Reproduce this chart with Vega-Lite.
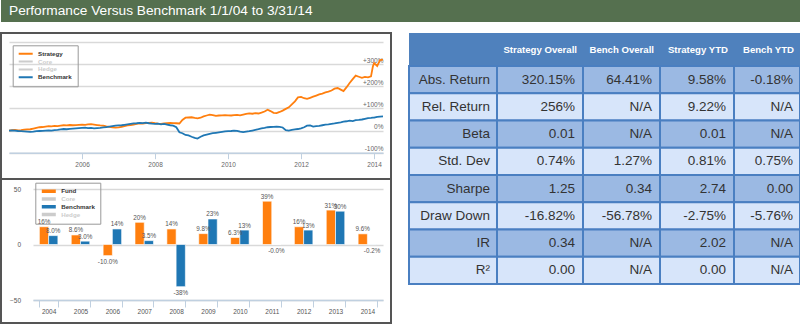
{
  "$schema": "https://vega.github.io/schema/vega-lite/v6.json",
  "padding": 0,
  "background": "#ffffff",
  "config": {"font": "Liberation Sans", "view": {"stroke": null}},
  "datasets": {
    "perf": [
      {"date":"2004-01-01","Strategy":0,"Benchmark":0},
      {"date":"2004-02-01","Strategy":2,"Benchmark":1},
      {"date":"2004-03-01","Strategy":3,"Benchmark":0},
      {"date":"2004-04-01","Strategy":1,"Benchmark":-2},
      {"date":"2004-05-01","Strategy":2,"Benchmark":-3},
      {"date":"2004-06-01","Strategy":4,"Benchmark":-4},
      {"date":"2004-07-01","Strategy":5,"Benchmark":-5},
      {"date":"2004-08-01","Strategy":6,"Benchmark":-6},
      {"date":"2004-09-01","Strategy":9,"Benchmark":-5},
      {"date":"2004-10-01","Strategy":12,"Benchmark":-3},
      {"date":"2004-11-01","Strategy":15,"Benchmark":-2},
      {"date":"2004-12-01","Strategy":16,"Benchmark":-1},
      {"date":"2005-01-01","Strategy":18,"Benchmark":0},
      {"date":"2005-02-01","Strategy":20,"Benchmark":1},
      {"date":"2005-03-01","Strategy":19,"Benchmark":0},
      {"date":"2005-04-01","Strategy":21,"Benchmark":2},
      {"date":"2005-05-01","Strategy":20,"Benchmark":3},
      {"date":"2005-06-01","Strategy":22,"Benchmark":5},
      {"date":"2005-07-01","Strategy":24,"Benchmark":7},
      {"date":"2005-08-01","Strategy":23,"Benchmark":6},
      {"date":"2005-09-01","Strategy":25,"Benchmark":8},
      {"date":"2005-10-01","Strategy":24,"Benchmark":9},
      {"date":"2005-11-01","Strategy":25,"Benchmark":10},
      {"date":"2005-12-01","Strategy":26,"Benchmark":11},
      {"date":"2006-01-01","Strategy":27,"Benchmark":12},
      {"date":"2006-02-01","Strategy":26,"Benchmark":13},
      {"date":"2006-03-01","Strategy":28,"Benchmark":11},
      {"date":"2006-04-01","Strategy":29,"Benchmark":12},
      {"date":"2006-05-01","Strategy":27,"Benchmark":10},
      {"date":"2006-06-01","Strategy":25,"Benchmark":11},
      {"date":"2006-07-01","Strategy":23,"Benchmark":12},
      {"date":"2006-08-01","Strategy":22,"Benchmark":14},
      {"date":"2006-09-01","Strategy":19,"Benchmark":16},
      {"date":"2006-10-01","Strategy":17,"Benchmark":18},
      {"date":"2006-11-01","Strategy":15,"Benchmark":20},
      {"date":"2006-12-01","Strategy":13,"Benchmark":22},
      {"date":"2007-01-01","Strategy":14,"Benchmark":23},
      {"date":"2007-02-01","Strategy":17,"Benchmark":24},
      {"date":"2007-03-01","Strategy":20,"Benchmark":26},
      {"date":"2007-04-01","Strategy":23,"Benchmark":28},
      {"date":"2007-05-01","Strategy":25,"Benchmark":30},
      {"date":"2007-06-01","Strategy":27,"Benchmark":32},
      {"date":"2007-07-01","Strategy":30,"Benchmark":33},
      {"date":"2007-08-01","Strategy":32,"Benchmark":35},
      {"date":"2007-09-01","Strategy":31,"Benchmark":34},
      {"date":"2007-10-01","Strategy":34,"Benchmark":36},
      {"date":"2007-11-01","Strategy":35,"Benchmark":33},
      {"date":"2007-12-01","Strategy":36,"Benchmark":31},
      {"date":"2008-01-01","Strategy":33,"Benchmark":30},
      {"date":"2008-02-01","Strategy":31,"Benchmark":31},
      {"date":"2008-03-01","Strategy":30,"Benchmark":28},
      {"date":"2008-04-01","Strategy":32,"Benchmark":30},
      {"date":"2008-05-01","Strategy":34,"Benchmark":27},
      {"date":"2008-06-01","Strategy":35,"Benchmark":24},
      {"date":"2008-07-01","Strategy":34,"Benchmark":22},
      {"date":"2008-08-01","Strategy":33,"Benchmark":15},
      {"date":"2008-09-01","Strategy":32,"Benchmark":-8},
      {"date":"2008-10-01","Strategy":48,"Benchmark":-12},
      {"date":"2008-11-01","Strategy":58,"Benchmark":-20},
      {"date":"2008-12-01","Strategy":59,"Benchmark":-22},
      {"date":"2009-01-01","Strategy":60,"Benchmark":-28},
      {"date":"2009-02-01","Strategy":57,"Benchmark":-33},
      {"date":"2009-03-01","Strategy":55,"Benchmark":-36},
      {"date":"2009-04-01","Strategy":58,"Benchmark":-28},
      {"date":"2009-05-01","Strategy":64,"Benchmark":-22},
      {"date":"2009-06-01","Strategy":68,"Benchmark":-18},
      {"date":"2009-07-01","Strategy":72,"Benchmark":-15},
      {"date":"2009-08-01","Strategy":70,"Benchmark":-12},
      {"date":"2009-09-01","Strategy":66,"Benchmark":-10},
      {"date":"2009-10-01","Strategy":68,"Benchmark":-8},
      {"date":"2009-11-01","Strategy":69,"Benchmark":-6},
      {"date":"2009-12-01","Strategy":70,"Benchmark":-4},
      {"date":"2010-01-01","Strategy":69,"Benchmark":-3},
      {"date":"2010-02-01","Strategy":68,"Benchmark":-2},
      {"date":"2010-03-01","Strategy":70,"Benchmark":0},
      {"date":"2010-04-01","Strategy":71,"Benchmark":-1},
      {"date":"2010-05-01","Strategy":69,"Benchmark":-5},
      {"date":"2010-06-01","Strategy":72,"Benchmark":-7},
      {"date":"2010-07-01","Strategy":75,"Benchmark":-5},
      {"date":"2010-08-01","Strategy":78,"Benchmark":-3},
      {"date":"2010-09-01","Strategy":76,"Benchmark":0},
      {"date":"2010-10-01","Strategy":79,"Benchmark":3},
      {"date":"2010-11-01","Strategy":77,"Benchmark":6},
      {"date":"2010-12-01","Strategy":81,"Benchmark":10},
      {"date":"2011-01-01","Strategy":86,"Benchmark":12},
      {"date":"2011-02-01","Strategy":94,"Benchmark":15},
      {"date":"2011-03-01","Strategy":88,"Benchmark":16},
      {"date":"2011-04-01","Strategy":80,"Benchmark":17},
      {"date":"2011-05-01","Strategy":79,"Benchmark":18},
      {"date":"2011-06-01","Strategy":84,"Benchmark":17},
      {"date":"2011-07-01","Strategy":90,"Benchmark":14},
      {"date":"2011-08-01","Strategy":98,"Benchmark":2},
      {"date":"2011-09-01","Strategy":105,"Benchmark":0},
      {"date":"2011-10-01","Strategy":118,"Benchmark":3},
      {"date":"2011-11-01","Strategy":132,"Benchmark":5},
      {"date":"2011-12-01","Strategy":150,"Benchmark":7},
      {"date":"2012-01-01","Strategy":152,"Benchmark":10},
      {"date":"2012-02-01","Strategy":146,"Benchmark":15},
      {"date":"2012-03-01","Strategy":143,"Benchmark":22},
      {"date":"2012-04-01","Strategy":148,"Benchmark":23},
      {"date":"2012-05-01","Strategy":153,"Benchmark":18},
      {"date":"2012-06-01","Strategy":158,"Benchmark":20},
      {"date":"2012-07-01","Strategy":163,"Benchmark":21},
      {"date":"2012-08-01","Strategy":167,"Benchmark":24},
      {"date":"2012-09-01","Strategy":172,"Benchmark":27},
      {"date":"2012-10-01","Strategy":176,"Benchmark":28},
      {"date":"2012-11-01","Strategy":181,"Benchmark":30},
      {"date":"2012-12-01","Strategy":189,"Benchmark":32},
      {"date":"2013-01-01","Strategy":192,"Benchmark":35},
      {"date":"2013-02-01","Strategy":185,"Benchmark":37},
      {"date":"2013-03-01","Strategy":178,"Benchmark":40},
      {"date":"2013-04-01","Strategy":196,"Benchmark":42},
      {"date":"2013-05-01","Strategy":215,"Benchmark":45},
      {"date":"2013-06-01","Strategy":232,"Benchmark":43},
      {"date":"2013-07-01","Strategy":248,"Benchmark":47},
      {"date":"2013-08-01","Strategy":243,"Benchmark":48},
      {"date":"2013-09-01","Strategy":238,"Benchmark":50},
      {"date":"2013-10-01","Strategy":242,"Benchmark":53},
      {"date":"2013-11-01","Strategy":240,"Benchmark":56},
      {"date":"2013-12-01","Strategy":245,"Benchmark":57},
      {"date":"2013-12-20","Strategy":290,"Benchmark":58},
      {"date":"2014-01-01","Strategy":305,"Benchmark":58},
      {"date":"2014-02-01","Strategy":292,"Benchmark":62},
      {"date":"2014-03-01","Strategy":318,"Benchmark":63},
      {"date":"2014-03-31","Strategy":320,"Benchmark":64}
    ],
    "bars": [
      {"year":"2004","series":"Fund","v":16,"label":"16%"},
      {"year":"2004","series":"Benchmark","v":8.0,"label":"8.0%"},
      {"year":"2005","series":"Fund","v":8.6,"label":"8.6%"},
      {"year":"2005","series":"Benchmark","v":3.0,"label":"3.0%"},
      {"year":"2006","series":"Fund","v":-10.0,"label":"-10.0%"},
      {"year":"2006","series":"Benchmark","v":14,"label":"14%"},
      {"year":"2007","series":"Fund","v":20,"label":"20%"},
      {"year":"2007","series":"Benchmark","v":3.5,"label":"3.5%"},
      {"year":"2008","series":"Fund","v":14,"label":"14%"},
      {"year":"2008","series":"Benchmark","v":-38,"label":"-38%"},
      {"year":"2009","series":"Fund","v":9.8,"label":"9.8%"},
      {"year":"2009","series":"Benchmark","v":23,"label":"23%"},
      {"year":"2010","series":"Fund","v":6.3,"label":"6.3%"},
      {"year":"2010","series":"Benchmark","v":13,"label":"13%"},
      {"year":"2011","series":"Fund","v":39,"label":"39%"},
      {"year":"2011","series":"Benchmark","v":-0.02,"label":"-0.0%"},
      {"year":"2012","series":"Fund","v":16,"label":"16%"},
      {"year":"2012","series":"Benchmark","v":13,"label":"13%"},
      {"year":"2013","series":"Fund","v":31,"label":"31%"},
      {"year":"2013","series":"Benchmark","v":30,"label":"30%"},
      {"year":"2014","series":"Fund","v":9.6,"label":"9.6%"},
      {"year":"2014","series":"Benchmark","v":-0.18,"label":"-0.2%"}
    ],
    "stats": [
      {"metric":"Abs. Return","Strategy Overall":"320.15%","Bench Overall":"64.41%","Strategy YTD":"9.58%","Bench YTD":"-0.18%"},
      {"metric":"Rel. Return","Strategy Overall":"256%","Bench Overall":"N/A","Strategy YTD":"9.22%","Bench YTD":"N/A"},
      {"metric":"Beta","Strategy Overall":"0.01","Bench Overall":"N/A","Strategy YTD":"0.01","Bench YTD":"N/A"},
      {"metric":"Std. Dev","Strategy Overall":"0.74%","Bench Overall":"1.27%","Strategy YTD":"0.81%","Bench YTD":"0.75%"},
      {"metric":"Sharpe","Strategy Overall":"1.25","Bench Overall":"0.34","Strategy YTD":"2.74","Bench YTD":"0.00"},
      {"metric":"Draw Down","Strategy Overall":"-16.82%","Bench Overall":"-56.78%","Strategy YTD":"-2.75%","Bench YTD":"-5.76%"},
      {"metric":"IR","Strategy Overall":"0.34","Bench Overall":"N/A","Strategy YTD":"2.02","Bench YTD":"N/A"},
      {"metric":"R²","Strategy Overall":"0.00","Bench Overall":"N/A","Strategy YTD":"0.00","Bench YTD":"N/A"}
    ]
  },
  "spacing": 10,
  "resolve": {"scale": {"x": "independent", "y": "independent", "color": "independent", "fill": "independent"}, "axis": {"x": "independent", "y": "independent"}, "legend": {"color": "independent", "fill": "independent"}},
  "vconcat": [
    {
      "width": 800, "height": 22,
      "view": {"fill": "#55704f", "stroke": null},
      "data": {"values": [{"t": "Performance Versus Benchmark 1/1/04 to 3/31/14"}]},
      "mark": {"type": "text", "align": "left", "baseline": "middle", "dx": 8, "fontSize": 13.7, "color": "#ffffff"},
      "encoding": {
        "x": {"field": "t", "type": "nominal", "scale": {"type": "band", "paddingInner": 0, "paddingOuter": 0}, "axis": null, "bandPosition": 0},
        "text": {"field": "t"}
      }
    },
    {
      "spacing": 16,
      "resolve": {"scale": {"x": "independent", "y": "independent", "color": "independent", "fill": "independent"}, "axis": {"x": "independent", "y": "independent"}, "legend": {"color": "independent", "fill": "independent"}},
      "hconcat": [
        {
          "spacing": 0,
          "bounds": "flush",
          "resolve": {"scale": {"x": "independent", "y": "independent", "color": "independent"}, "axis": {"x": "independent", "y": "independent"}, "legend": {"color": "independent"}},
          "vconcat": [
            {
              "width": 390, "height": 146,
              "view": {"stroke": "#555555", "strokeWidth": 2},
              "data": {"name": "perf"},
              "transform": [{"fold": ["Strategy", "Benchmark"], "as": ["series", "value"]}],
              "mark": {"type": "line", "strokeWidth": 1.8},
              "encoding": {
                "x": {"field": "date", "type": "temporal",
                  "scale": {"type": "utc", "domain": [{"year": 2004, "month": 1, "date": 1, "utc": true}, {"year": 2014, "month": 3, "date": 31, "utc": true}], "range": [8, 382], "nice": false},
                  "axis": {"title": null, "values": [{"year": 2006, "utc": true}, {"year": 2008, "utc": true}, {"year": 2010, "utc": true}, {"year": 2012, "utc": true}, {"year": 2014, "utc": true}], "format": "%Y", "grid": false, "offset": -26.3, "domainColor": "#c0d0e0", "domainWidth": 1.5, "tickColor": "#c0d0e0", "tickSize": 6, "labelPadding": 3, "labelFontSize": 6.5, "labelColor": "#666666", "labelFlush": false}
                },
                "y": {"field": "value", "type": "quantitative",
                  "scale": {"domain": [-100, 400], "range": [119.7, 9], "nice": false, "zero": false},
                  "axis": {"title": null, "orient": "right", "offset": -8, "values": [-100, 0, 100, 200, 300, 400], "labelExpr": "datum.value == 400 ? '' : (datum.value > 0 ? '+' : '') + datum.value + '%'", "domain": false, "ticks": false, "labelAlign": "right", "labelBaseline": "bottom", "labelPadding": 0, "labelOffset": -1, "grid": true, "gridColor": "#d9d9d9", "gridWidth": 1.5, "labelFontSize": 6.5, "labelColor": "#666666", "labelFlush": false, "labelOverlap": false}
                },
                "color": {"field": "series", "type": "nominal",
                  "scale": {"domain": ["Strategy", "Core", "Hedge", "Benchmark"], "range": ["#ff7f0e", "#cccccc", "#cccccc", "#1f77b4"]},
                  "legend": {"orient": "none", "legendX": 11.7, "legendY": 12.3, "direction": "vertical", "title": null, "symbolType": "stroke", "symbolStrokeWidth": 2, "symbolSize": 196, "clipHeight": 7, "rowPadding": 0.8, "padding": 5, "labelOffset": 4.3, "labelFontSize": 6.2, "labelFontWeight": "bold", "strokeColor": "#999999",
                    "labelColor": {"expr": "datum.value == 'Core' || datum.value == 'Hedge' ? '#cccccc' : '#333333'"}}
                }
              }
            },
            {
              "width": 390, "height": 144,
              "view": {"stroke": "#555555", "strokeWidth": 2},
              "data": {"name": "bars"},
              "encoding": {
                "x": {"field": "year", "type": "nominal", "scale": {"range": [32, 382], "paddingInner": 0.42},
                  "axis": {"title": null, "offset": -23, "domainColor": "#c0d0e0", "domainWidth": 1.5, "tickColor": "#c0d0e0", "tickBand": "extent", "tickSize": 7, "labelPadding": 1.5, "labelFontSize": 6.5, "labelColor": "#555555", "labelAngle": 0, "grid": false}},
                "xOffset": {"field": "series", "scale": {"domain": ["Fund", "Benchmark"], "paddingInner": 0, "paddingOuter": 0}},
                "y": {"field": "v", "type": "quantitative", "scale": {"domain": [-50, 50], "range": [121, 10], "nice": false},
                  "axis": {"title": null, "offset": -32, "values": [-50, 0, 50], "domain": false, "ticks": false, "labelPadding": 12.5, "gridColor": "#d9d9d9", "gridWidth": 1.5, "labelFontSize": 6.5, "labelColor": "#555555"}}
              },
              "layer": [
                {
                  "mark": {"type": "bar", "stroke": "#ffffff", "strokeWidth": 0.6},
                  "encoding": {
                    "color": {"field": "series", "type": "nominal",
                      "scale": {"domain": ["Fund", "Core", "Benchmark", "Hedge"], "range": ["#ff7f0e", "#cccccc", "#1f77b4", "#cccccc"]},
                      "legend": {"orient": "none", "legendX": 34.3, "legendY": 3.7, "direction": "vertical", "title": null, "symbolType": "M-1,-0.25H1V0.25H-1Z", "symbolSize": 196, "symbolStrokeWidth": 0, "symbolOffset": 1.5, "clipHeight": 7, "rowPadding": 0.8, "padding": 5, "labelOffset": 5.4, "labelFontSize": 6.2, "labelFontWeight": "bold", "strokeColor": "#999999",
                        "labelColor": {"expr": "datum.value == 'Core' || datum.value == 'Hedge' ? '#cccccc' : '#333333'"}}
                    }
                  }
                },
                {
                  "transform": [{"filter": "datum.v >= 0"}],
                  "mark": {"type": "text", "baseline": "bottom", "dy": -1.5, "fontSize": 6.3, "color": "#555555"},
                  "encoding": {"text": {"field": "label"}}
                },
                {
                  "transform": [{"filter": "datum.v < 0"}],
                  "mark": {"type": "text", "baseline": "top", "dy": 3.5, "fontSize": 6.3, "color": "#555555"},
                  "encoding": {"text": {"field": "label"}}
                }
              ]
            }
          ]
        },
        {
          "spacing": 0,
          "resolve": {"scale": {"x": "independent", "y": "independent", "fill": "independent"}, "axis": {"x": "independent", "y": "independent"}},
          "vconcat": [
            {
              "spacing": 0,
              "bounds": "flush",
              "resolve": {"scale": {"x": "independent", "y": "independent"}},
              "hconcat": [
                {"width": 88, "height": 32, "view": {"fill": "#4f81bd", "stroke": null}, "data": {"values": [{"h": ""}]},
                 "mark": {"type": "text", "align": "right", "baseline": "middle", "dx": -6, "dy": 1, "fontSize": 9.6, "fontWeight": "bold", "color": "#ffffff"},
                 "encoding": {"x": {"field": "h", "type": "nominal", "scale": {"type": "band", "paddingInner": 0, "paddingOuter": 0}, "axis": null, "bandPosition": 1}, "text": {"field": "h"}}},
                {"width": 86, "height": 32, "view": {"fill": "#4f81bd", "stroke": null}, "data": {"values": [{"h": "Strategy Overall"}]},
                 "mark": {"type": "text", "align": "right", "baseline": "middle", "dx": -6, "dy": 1, "fontSize": 9.6, "fontWeight": "bold", "color": "#ffffff"},
                 "encoding": {"x": {"field": "h", "type": "nominal", "scale": {"type": "band", "paddingInner": 0, "paddingOuter": 0}, "axis": null, "bandPosition": 1}, "text": {"field": "h"}}},
                {"width": 77, "height": 32, "view": {"fill": "#4f81bd", "stroke": null}, "data": {"values": [{"h": "Bench Overall"}]},
                 "mark": {"type": "text", "align": "right", "baseline": "middle", "dx": -6, "dy": 1, "fontSize": 9.6, "fontWeight": "bold", "color": "#ffffff"},
                 "encoding": {"x": {"field": "h", "type": "nominal", "scale": {"type": "band", "paddingInner": 0, "paddingOuter": 0}, "axis": null, "bandPosition": 1}, "text": {"field": "h"}}},
                {"width": 74, "height": 32, "view": {"fill": "#4f81bd", "stroke": null}, "data": {"values": [{"h": "Strategy YTD"}]},
                 "mark": {"type": "text", "align": "right", "baseline": "middle", "dx": -6, "dy": 1, "fontSize": 9.6, "fontWeight": "bold", "color": "#ffffff"},
                 "encoding": {"x": {"field": "h", "type": "nominal", "scale": {"type": "band", "paddingInner": 0, "paddingOuter": 0}, "axis": null, "bandPosition": 1}, "text": {"field": "h"}}},
                {"width": 66, "height": 32, "view": {"fill": "#4f81bd", "stroke": null}, "data": {"values": [{"h": "Bench YTD"}]},
                 "mark": {"type": "text", "align": "right", "baseline": "middle", "dx": -6, "dy": 1, "fontSize": 9.6, "fontWeight": "bold", "color": "#ffffff"},
                 "encoding": {"x": {"field": "h", "type": "nominal", "scale": {"type": "band", "paddingInner": 0, "paddingOuter": 0}, "axis": null, "bandPosition": 1}, "text": {"field": "h"}}}
              ]
            },
            {
              "spacing": 0,
              "bounds": "flush",
              "resolve": {"scale": {"x": "independent"}},
              "hconcat": [
                {"width": 88, "height": 218, "data": {"name": "stats"},
                 "transform": [{"fold": ["metric"], "as": ["col", "val"]}],
                 "encoding": {"y": {"field": "metric", "type": "nominal", "sort": null, "scale": {"type": "band", "domain": ["Abs. Return", "Rel. Return", "Beta", "Std. Dev", "Sharpe", "Draw Down", "IR", "R²"], "paddingInner": 0, "paddingOuter": 0}, "axis": null}},
                 "layer": [
                   {"mark": {"type": "rect", "stroke": "#4a7fc1", "strokeWidth": 2},
                    "encoding": {"x": {"field": "col", "type": "nominal", "scale": {"type": "band", "paddingInner": 0, "paddingOuter": 0}, "axis": null},
                      "fill": {"field": "metric", "type": "nominal", "scale": {"domain": ["Abs. Return", "Rel. Return", "Beta", "Std. Dev", "Sharpe", "Draw Down", "IR", "R²"], "range": ["#9bb9e3", "#d7e5fa", "#9bb9e3", "#d7e5fa", "#9bb9e3", "#d7e5fa", "#9bb9e3", "#d7e5fa"]}, "legend": null}}},
                   {"mark": {"type": "text", "align": "right", "baseline": "middle", "dx": -7, "fontSize": 13.5, "color": "#333333"},
                    "encoding": {"x": {"field": "col", "type": "nominal", "axis": null, "bandPosition": 1}, "text": {"field": "val"}}}
                 ]},
                {"width": 86, "height": 218, "data": {"name": "stats"},
                 "transform": [{"fold": ["Strategy Overall"], "as": ["col", "val"]}],
                 "encoding": {"y": {"field": "metric", "type": "nominal", "sort": null, "scale": {"type": "band", "domain": ["Abs. Return", "Rel. Return", "Beta", "Std. Dev", "Sharpe", "Draw Down", "IR", "R²"], "paddingInner": 0, "paddingOuter": 0}, "axis": null}},
                 "layer": [
                   {"mark": {"type": "rect", "stroke": "#4a7fc1", "strokeWidth": 2},
                    "encoding": {"x": {"field": "col", "type": "nominal", "scale": {"type": "band", "paddingInner": 0, "paddingOuter": 0}, "axis": null},
                      "fill": {"field": "metric", "type": "nominal", "scale": {"domain": ["Abs. Return", "Rel. Return", "Beta", "Std. Dev", "Sharpe", "Draw Down", "IR", "R²"], "range": ["#9bb9e3", "#d7e5fa", "#9bb9e3", "#d7e5fa", "#9bb9e3", "#d7e5fa", "#9bb9e3", "#d7e5fa"]}, "legend": null}}},
                   {"mark": {"type": "text", "align": "right", "baseline": "middle", "dx": -8, "fontSize": 13.5, "color": "#333333"},
                    "encoding": {"x": {"field": "col", "type": "nominal", "axis": null, "bandPosition": 1}, "text": {"field": "val"}}}
                 ]},
                {"width": 77, "height": 218, "data": {"name": "stats"},
                 "transform": [{"fold": ["Bench Overall"], "as": ["col", "val"]}],
                 "encoding": {"y": {"field": "metric", "type": "nominal", "sort": null, "scale": {"type": "band", "domain": ["Abs. Return", "Rel. Return", "Beta", "Std. Dev", "Sharpe", "Draw Down", "IR", "R²"], "paddingInner": 0, "paddingOuter": 0}, "axis": null}},
                 "layer": [
                   {"mark": {"type": "rect", "stroke": "#4a7fc1", "strokeWidth": 2},
                    "encoding": {"x": {"field": "col", "type": "nominal", "scale": {"type": "band", "paddingInner": 0, "paddingOuter": 0}, "axis": null},
                      "fill": {"field": "metric", "type": "nominal", "scale": {"domain": ["Abs. Return", "Rel. Return", "Beta", "Std. Dev", "Sharpe", "Draw Down", "IR", "R²"], "range": ["#9bb9e3", "#d7e5fa", "#9bb9e3", "#d7e5fa", "#9bb9e3", "#d7e5fa", "#9bb9e3", "#d7e5fa"]}, "legend": null}}},
                   {"mark": {"type": "text", "align": "right", "baseline": "middle", "dx": -8, "fontSize": 13.5, "color": "#333333"},
                    "encoding": {"x": {"field": "col", "type": "nominal", "axis": null, "bandPosition": 1}, "text": {"field": "val"}}}
                 ]},
                {"width": 74, "height": 218, "data": {"name": "stats"},
                 "transform": [{"fold": ["Strategy YTD"], "as": ["col", "val"]}],
                 "encoding": {"y": {"field": "metric", "type": "nominal", "sort": null, "scale": {"type": "band", "domain": ["Abs. Return", "Rel. Return", "Beta", "Std. Dev", "Sharpe", "Draw Down", "IR", "R²"], "paddingInner": 0, "paddingOuter": 0}, "axis": null}},
                 "layer": [
                   {"mark": {"type": "rect", "stroke": "#4a7fc1", "strokeWidth": 2},
                    "encoding": {"x": {"field": "col", "type": "nominal", "scale": {"type": "band", "paddingInner": 0, "paddingOuter": 0}, "axis": null},
                      "fill": {"field": "metric", "type": "nominal", "scale": {"domain": ["Abs. Return", "Rel. Return", "Beta", "Std. Dev", "Sharpe", "Draw Down", "IR", "R²"], "range": ["#9bb9e3", "#d7e5fa", "#9bb9e3", "#d7e5fa", "#9bb9e3", "#d7e5fa", "#9bb9e3", "#d7e5fa"]}, "legend": null}}},
                   {"mark": {"type": "text", "align": "right", "baseline": "middle", "dx": -8, "fontSize": 13.5, "color": "#333333"},
                    "encoding": {"x": {"field": "col", "type": "nominal", "axis": null, "bandPosition": 1}, "text": {"field": "val"}}}
                 ]},
                {"width": 66, "height": 218, "data": {"name": "stats"},
                 "transform": [{"fold": ["Bench YTD"], "as": ["col", "val"]}],
                 "encoding": {"y": {"field": "metric", "type": "nominal", "sort": null, "scale": {"type": "band", "domain": ["Abs. Return", "Rel. Return", "Beta", "Std. Dev", "Sharpe", "Draw Down", "IR", "R²"], "paddingInner": 0, "paddingOuter": 0}, "axis": null}},
                 "layer": [
                   {"mark": {"type": "rect", "stroke": "#4a7fc1", "strokeWidth": 2},
                    "encoding": {"x": {"field": "col", "type": "nominal", "scale": {"type": "band", "paddingInner": 0, "paddingOuter": 0}, "axis": null},
                      "fill": {"field": "metric", "type": "nominal", "scale": {"domain": ["Abs. Return", "Rel. Return", "Beta", "Std. Dev", "Sharpe", "Draw Down", "IR", "R²"], "range": ["#9bb9e3", "#d7e5fa", "#9bb9e3", "#d7e5fa", "#9bb9e3", "#d7e5fa", "#9bb9e3", "#d7e5fa"]}, "legend": null}}},
                   {"mark": {"type": "text", "align": "right", "baseline": "middle", "dx": -7, "fontSize": 13.5, "color": "#333333"},
                    "encoding": {"x": {"field": "col", "type": "nominal", "axis": null, "bandPosition": 1}, "text": {"field": "val"}}}
                 ]}
              ]
            }
          ]
        }
      ]
    }
  ]
}
